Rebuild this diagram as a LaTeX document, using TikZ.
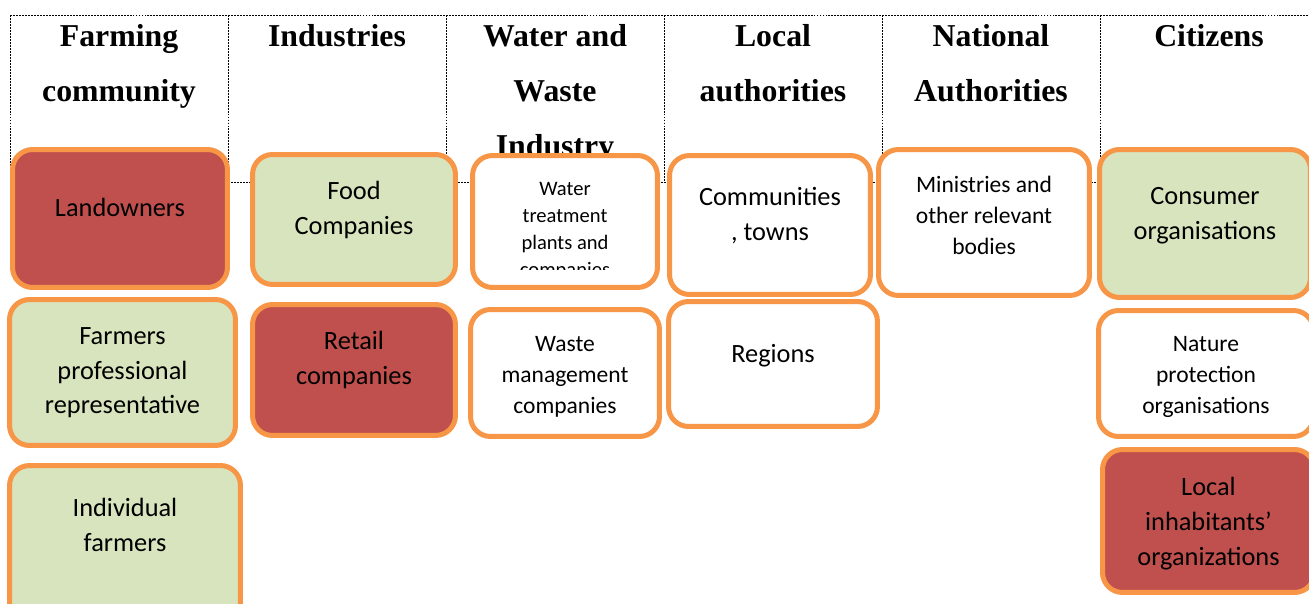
\documentclass[tikz,border=0pt]{standalone}
\usepackage{fontspec}
\setmainfont{Carlito}
\newfontfamily\headfont{Liberation Serif}

\begin{document}
\begin{tikzpicture}[x=0.02cm, y=-0.02cm,
        grid/.style={dash pattern=on 1.1pt off 0.6pt, line width=0.5pt},
        head/.style={anchor=north, inner sep=0, align=center, font=\headfont\bfseries\fontsize{18.1}{31.2}\selectfont},
        box/.style={draw=stakeorange, line width=0.1cm, rounded corners=0.4cm, fill=white},
        txt/.style={anchor=north, inner sep=0, align=center, font=\fontsize{15}{19.8}\selectfont},
        txtsmall/.style={txt, font=\fontsize{13.4}{17.6}\selectfont},
        txttiny/.style={txt, font=\fontsize{11.7}{15.4}\selectfont}]
        % Colores
        \definecolor{stakeorange}{RGB}{247, 150, 70}
        \definecolor{stakered}{RGB}{192, 80, 77}
        \definecolor{stakegreen}{RGB}{215, 228, 189}

        \useasboundingbox (0,0) rectangle (1309,604);
        \clip (0,0) rectangle (1309,604);

        % Tabla de cabeceras
        \draw[grid] (10,15) rectangle (1318,182);
        \foreach \x in {228,446,664,882,1100} \draw[grid] (\x,15) -- (\x,182);

        \node[head] (hfarm) at (119,24) {Farming\\community};
        \node[head] (hind) at (337,24) {Industries};
        \node[head] (hwater) at (555,24) {Water and\\Waste\\Industry};
        \node[head] (hlocal) at (773,24) {Local\\authorities};
        \node[head] (hnat) at (991,24) {National\\Authorities};
        \node[head] (hcit) at (1209,24) {Citizens};

        % Cajas
        \node[box, fill=stakered, minimum width=4.30cm, minimum height=2.76cm] (landowners) at (120,218.5) {};
        \node[box, fill=stakegreen, minimum width=4.52cm, minimum height=2.92cm] (farmrep) at (122.5,372.5) {};
        \node[box, fill=stakegreen, minimum width=4.62cm, minimum height=3.44cm] (indiv) at (125,551.5) {};
        \node[box, fill=stakegreen, minimum width=4.06cm, minimum height=2.60cm] (food) at (354,219.5) {};
        \node[box, fill=stakered, minimum width=4.06cm, minimum height=2.62cm] (retail) at (354,370) {};
        \node[box, minimum width=3.70cm, minimum height=2.64cm] (water) at (565,221.5) {};
        \node[box, minimum width=3.78cm, minimum height=2.54cm] (waste) at (565,373) {};
        \node[box, minimum width=4.02cm, minimum height=2.78cm] (towns) at (770,225) {};
        \node[box, minimum width=4.18cm, minimum height=2.50cm] (regions) at (773,364) {};
        \node[box, minimum width=4.22cm, minimum height=2.92cm] (ministries) at (984,222.5) {};
        \node[box, fill=stakegreen, minimum width=4.22cm, minimum height=2.96cm] (consumer) at (1205,223.5) {};
        \node[box, minimum width=4.30cm, minimum height=2.52cm] (nature) at (1206,373.5) {};
        \node[box, fill=stakered, minimum width=4.24cm, minimum height=2.86cm] (inhab) at (1208.5,521) {};

        % Textos
        \node[txt] (tlandowners) at (120,198) {Landowners};
        \node[txt] (tfarmrep) at (122.5,327) {Farmers\\professional\\representative};
        \node[txt] (tindiv) at (125,498) {Individual\\farmers};
        \node[txt] (tfood) at (354,181) {Food\\Companies};
        \node[txt] (tretail) at (354,331) {Retail\\companies};
        \begin{scope}
            \clip (470,153) rectangle (660,269.5);
            \node[txttiny] (twater) at (565,182) {Water\\treatment\\plants and\\companies};
        \end{scope}
        \node[txtsmall] (twaste) at (565,336) {Waste\\management\\companies};
        \node[txt] (ttowns) at (770,187) {Communities\\, towns};
        \node[txt] (tregions) at (773,344) {Regions};
        \node[txtsmall] (tministries) at (984,176) {Ministries and\\other relevant\\bodies};
        \node[txt] (tconsumer) at (1205,187) {Consumer\\organisations};
        \node[txtsmall] (tnature) at (1206,336) {Nature\\protection\\organisations};
        \node[txt] (tinhab) at (1208.5,477) {Local\\inhabitants’\\organizations};

    \end{tikzpicture}
\end{document}
